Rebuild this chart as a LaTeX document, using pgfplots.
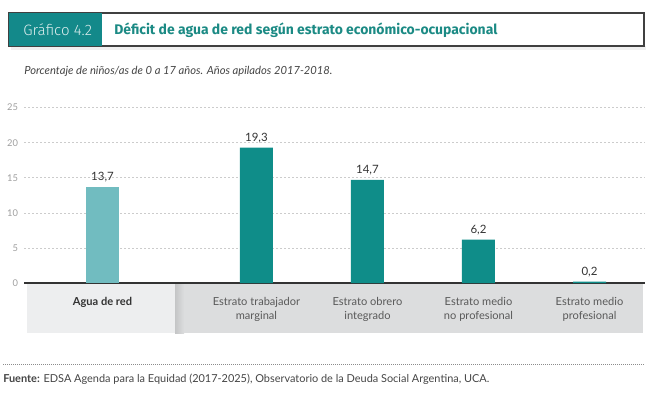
\documentclass[border=0pt]{standalone}
\usepackage{pgfplots}
\pgfplotsset{compat=1.18}
\usepackage{fontspec}
\setmainfont{Lato}
\newfontfamily\fira{Fira Sans}
\newfontfamily\firalight{Fira Sans Light}
\usetikzlibrary{shadings}
\definecolor{tealdark}{HTML}{0F8D89}
\definecolor{teallight}{HTML}{71BCC0}
\definecolor{titlebox}{HTML}{13898A}
\definecolor{titletext}{HTML}{1B8A84}
\definecolor{panelA}{HTML}{EDEEEF}
\definecolor{panelB}{HTML}{DCDDDE}
\definecolor{panelS}{HTML}{C4C5C6}
\definecolor{axisdark}{HTML}{333333}
\definecolor{txt}{HTML}{444444}
\begin{document}
\begin{tikzpicture}
\begin{scope}[x=0.75pt,y=-0.75pt]
  \path (0,0) rectangle (666,394);
  % title box shadow
  \fill[black!6] (11,46) rectangle (646,50);
  \draw[line width=0.9pt, black!75] (9,13) rectangle (644,46);
  \fill[titlebox] (9,13) rectangle (102,46);
  \node[anchor=west, font=\firalight\fontsize{11.3}{13}\selectfont, text=white!85!titlebox, inner sep=0] at (23,30) {Gráfico 4.2};
  \node[anchor=west, font=\fira\bfseries\fontsize{10.45}{12}\selectfont, text=titletext, inner sep=0] at (114,30) {Déficit de agua de red según estrato económico-ocupacional};
  % subtitle
  \node[anchor=west, font=\itshape\fontsize{8.4}{10}\selectfont, text=txt, inner sep=0] at (24,71) {Porcentaje de niños/as de 0 a 17 años. Años apilados 2017-2018.};
  % panels
  \fill[panelA] (27,284) rectangle (175,333);
  \fill[panelB] (175,284) rectangle (643,333);
  \shade[left color=panelS, right color=panelB] (175,284) rectangle (184,333);
  % separator and source
  \draw[black!45, line width=0.5pt, dash pattern=on 0.75pt off 0.75pt] (3,364) -- (645,364);
  \node[anchor=west, font=\fontsize{8.2}{10}\selectfont, text=txt, inner sep=0] at (3,379) {\textbf{Fuente:} EDSA Agenda para la Equidad (2017-2025), Observatorio de la Deuda Social Argentina, UCA.};
\end{scope}
\begin{axis}[
  at={(18pt,-212.25pt)}, anchor=south west,
  scale only axis, width=465.75pt, height=131.55pt,
  xmin=-0.707, xmax=4.887, ymin=0, ymax=25,
  ytick={0,5,10,15,20,25},
  xtick={0,1.387,2.387,3.387,4.387},
  xticklabels={{\color{axisdark}\textbf{Agua de red}},Estrato trabajador\\marginal,Estrato obrero\\integrado,Estrato medio\\no profesional,Estrato medio\\profesional},
  xticklabel style={anchor=north, yshift=-10.5pt, inner sep=0pt, align=center, font=\fontsize{8.3}{10.8}\selectfont, text=black!65},
  yticklabel style={font=\fontsize{7}{8}\selectfont, text=black!38, xshift=-1pt},
  /pgf/number format/assume math mode=true,
  axis x line=bottom, axis y line=left,
  x axis line style={line width=1.6pt, color=axisdark, -},
  y axis line style={draw=none},
  major tick length=0pt,
  ymajorgrids, major grid style={black!20, line width=0.5pt, dash pattern=on 1.5pt off 1.5pt},
  xmajorgrids=false,
  bar width=24.75pt,
  nodes near coords,
  nodes near coords style={font=\fontsize{8.6}{10}\selectfont, text=axisdark, /pgf/number format/.cd, use comma, fixed, fixed zerofill, precision=1, assume math mode=true},
  clip=false,
]
\addplot[ybar, fill=teallight, draw=none] coordinates {(0,13.7)};
\addplot[ybar, fill=tealdark, draw=none] coordinates {(1.387,19.3) (2.387,14.7) (3.387,6.2) (4.387,0.2)};
\end{axis}
\end{tikzpicture}
\end{document}
